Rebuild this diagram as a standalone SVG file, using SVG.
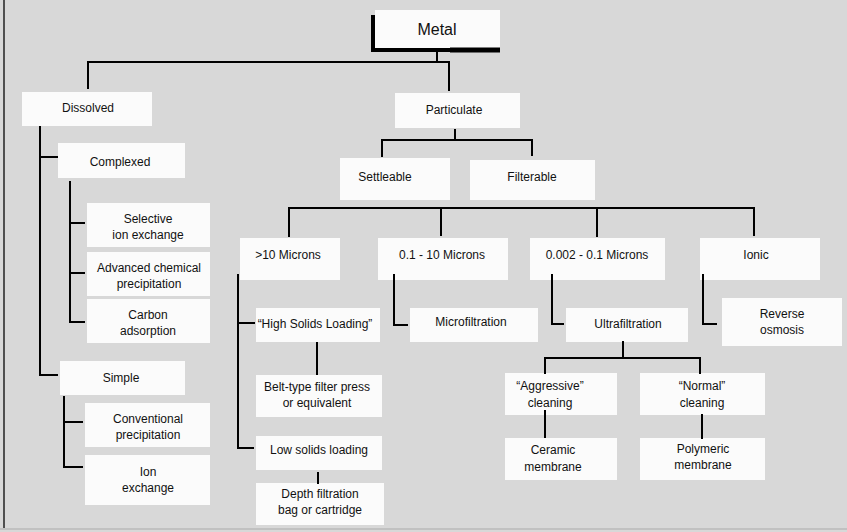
<svg xmlns="http://www.w3.org/2000/svg" width="847" height="532" viewBox="0 0 847 532">
<style>
.bx{fill:#fbfbfb}
.t{font-family:"Liberation Sans",Arial,sans-serif;font-size:12px;fill:#111;text-anchor:middle}
.c{fill:none;stroke:#000;stroke-width:2;stroke-linecap:square}
</style>
<rect width="847" height="532" fill="#d8d8d8"/>
<line x1="4" y1="0" x2="4" y2="528" stroke="#222" stroke-width="1.5"/>
<line x1="0" y1="529" x2="847" y2="529" stroke="#aaa" stroke-width="1"/>

<g id="metal"><rect class="bx" x="375" y="10" width="125" height="38"/><text class="t" x="437" y="35" style="font-size:16px">Metal</text></g>
<g id="dissolved"><rect class="bx" x="22" y="92" width="130" height="34"/><text class="t" x="88" y="112">Dissolved</text></g>
<g id="particulate"><rect class="bx" x="395" y="93" width="125" height="35"/><text class="t" x="454" y="114">Particulate</text></g>
<g id="complexed"><rect class="bx" x="58" y="143" width="127" height="35"/><text class="t" x="120" y="166">Complexed</text></g>
<g id="settleable"><rect class="bx" x="340" y="158" width="110" height="42"/><text class="t" x="385" y="181">Settleable</text></g>
<g id="filterable"><rect class="bx" x="470" y="160" width="125" height="40"/><text class="t" x="532" y="181">Filterable</text></g>
<g id="selective"><rect class="bx" x="87" y="203" width="123" height="44"/><text class="t" x="148" y="223">Selective</text><text class="t" x="148" y="239">ion exchange</text></g>
<g id="advanced"><rect class="bx" x="87" y="252" width="123" height="44"/><text class="t" x="149" y="272">Advanced chemical</text><text class="t" x="149" y="288">precipitation</text></g>
<g id="carbon"><rect class="bx" x="87" y="299" width="123" height="44"/><text class="t" x="148" y="319">Carbon</text><text class="t" x="148" y="335">adsorption</text></g>
<g id="simple"><rect class="bx" x="60" y="361" width="125" height="34"/><text class="t" x="121" y="382">Simple</text></g>
<g id="conventional"><rect class="bx" x="85" y="403" width="125" height="44"/><text class="t" x="148" y="423">Conventional</text><text class="t" x="148" y="439">precipitation</text></g>
<g id="ion"><rect class="bx" x="85" y="455" width="125" height="50"/><text class="t" x="148" y="476">Ion</text><text class="t" x="148" y="492">exchange</text></g>
<g id="gt10"><rect class="bx" x="240" y="238" width="100" height="42"/><text class="t" x="288" y="259">&gt;10 Microns</text></g>
<g id="m01"><rect class="bx" x="378" y="238" width="130" height="42"/><text class="t" x="442" y="259">0.1 - 10 Microns</text></g>
<g id="m0002"><rect class="bx" x="530" y="238" width="135" height="42"/><text class="t" x="597" y="259">0.002 - 0.1 Microns</text></g>
<g id="ionic"><rect class="bx" x="700" y="238" width="120" height="42"/><text class="t" x="756" y="259">Ionic</text></g>
<g id="highsolids"><rect class="bx" x="256" y="308" width="124" height="34"/><text class="t" x="315" y="328">“High Solids Loading”</text></g>
<g id="microfiltration"><rect class="bx" x="410" y="308" width="128" height="34"/><text class="t" x="471" y="326">Microfiltration</text></g>
<g id="ultrafiltration"><rect class="bx" x="566" y="308" width="122" height="34"/><text class="t" x="628" y="328">Ultrafiltration</text></g>
<g id="reverse"><rect class="bx" x="722" y="298" width="120" height="48"/><text class="t" x="782" y="318">Reverse</text><text class="t" x="782" y="334">osmosis</text></g>
<g id="belt"><rect class="bx" x="256" y="375" width="126" height="42"/><text class="t" x="317" y="391">Belt-type filter press</text><text class="t" x="317" y="407">or equivalent</text></g>
<g id="lowsolids"><rect class="bx" x="256" y="436" width="126" height="34"/><text class="t" x="319" y="454">Low solids loading</text></g>
<g id="depth"><rect class="bx" x="256" y="483" width="128" height="42"/><text class="t" x="320" y="498">Depth filtration</text><text class="t" x="320" y="514">bag or cartridge</text></g>
<g id="aggressive"><rect class="bx" x="505" y="373" width="112" height="42"/><text class="t" x="550" y="390">“Aggressive”</text><text class="t" x="550" y="407">cleaning</text></g>
<g id="ceramic"><rect class="bx" x="505" y="438" width="112" height="42"/><text class="t" x="553" y="454">Ceramic</text><text class="t" x="553" y="471">membrane</text></g>
<g id="normal"><rect class="bx" x="640" y="373" width="125" height="42"/><text class="t" x="702" y="390">“Normal”</text><text class="t" x="702" y="407">cleaning</text></g>
<g id="polymeric"><rect class="bx" x="640" y="438" width="125" height="42"/><text class="t" x="703" y="453">Polymeric</text><text class="t" x="703" y="469">membrane</text></g>

<g id="connectors">
<path d="M373,15 V50 H500" fill="none" stroke="#000" stroke-width="4"/>
<path d="M450,50 H500" fill="none" stroke="#000" stroke-width="5"/>
<path class="c" d="M437,52 V62 M88,88 V62 H449 V90"/>
<path class="c" d="M455,130 V140 M382,156 V140 H532 V155"/>
<path class="c" d="M289,236 V208 H754 V235 M441,208 V235 M597,208 V236"/>
<path class="c" d="M40,127 V375 H57 M40,157 H57"/>
<path class="c" d="M70,182 V322 H84 M70,223 H84 M70,273 H84"/>
<path class="c" d="M64,397 V467 H82 M64,422 H82"/>
<path class="c" d="M238,275 V448 H253 M238,323 H254"/>
<path class="c" d="M317,343 V374 M318,473 V483"/>
<path class="c" d="M394,275 V325 H407"/>
<path class="c" d="M552,275 V324 H563"/>
<path class="c" d="M703,275 V324 H716"/>
<path class="c" d="M623,342 V358 M545,373 V358 H700 V373"/>
<path class="c" d="M545,411 V437 M702,415 V438"/>
</g>
</svg>
